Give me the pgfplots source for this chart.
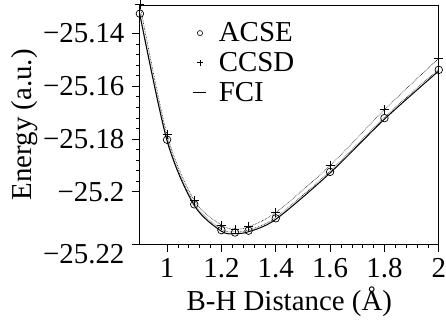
\documentclass[border=0pt]{standalone}
\usepackage{pgfplots}
\pgfplotsset{compat=1.18}
\usepackage{fontspec}
\setmainfont{Liberation Serif}
\begin{document}
\begin{tikzpicture}[x=1bp,y=1bp]
\begin{axis}[
  scale only axis,
  width=300bp, height=240bp,
  xmin=0.9, xmax=2.0,
  ymin=-25.22, ymax=-25.1293,
  axis line style={line width=0.8bp},
  tick pos=left,
  tick align=outside,
  major tick length=8bp,
  minor tick length=4bp,
  every tick/.style={line width=0.6bp, black},
  xtick={1,1.2,1.4,1.6,1.8,2},
  xticklabels={1,1.2,1.4,1.6,1.8,2},
  ytick={-25.2,-25.18,-25.16,-25.14},
  yticklabels={−25.2,−25.18,−25.16,−25.14},
  extra y ticks={-25.22},
  extra y tick labels={−25.22},
  extra y tick style={yticklabel style={yshift=-10bp}},
  minor x tick num=4,
  minor y tick num=4,
  tick label style={font=\fontsize{29bp}{30bp}\selectfont},
  yticklabel style={xshift=-4bp},
  xticklabel style={inner xsep=0bp, yshift=-2bp, text height=19.6bp, text depth=0bp},
  /pgf/number format/assume math mode=true,
  xlabel={B-H Distance (Å)},
  ylabel={Energy (a.u.)},
  every axis x label/.style={at={(axis description cs:0.5,-0.275)}, anchor=base, inner sep=3bp, font=\fontsize{29bp}{30bp}\selectfont},
  every axis y label/.style={at={(axis description cs:-0.3643,0.5)}, rotate=90, anchor=base, inner sep=11bp, font=\fontsize{29bp}{30bp}\selectfont},
  legend cell align=left,
  legend style={draw=none, fill=none, at={(rel axis cs:0.157,0.94)}, anchor=north west,
    font=\fontsize{29bp}{24bp}\selectfont, row sep=7bp,
    nodes={inner sep=1bp}},
  clip=false,
]
% fitted curves (no legend)
\addplot[black, densely dotted, line width=0.6bp, smooth, forget plot] coordinates {
(0.9,-25.1290) (1.0,-25.1784) (1.1,-25.2033) (1.2,-25.2127) (1.25,-25.2142) (1.3,-25.2133) (1.4,-25.2079) (1.6,-25.1901) (1.8,-25.1689) (2.0,-25.1494)};
\addplot[black, densely dotted, line width=0.6bp, smooth, forget plot] coordinates {
(0.9,-25.1322) (1.0,-25.1800) (1.1,-25.2045) (1.2,-25.2143) (1.25,-25.2152) (1.3,-25.2146) (1.4,-25.2098) (1.6,-25.1922) (1.8,-25.1718) (2.0,-25.1535)};
% ACSE
\addplot[only marks, mark=o, mark size=3.8bp, mark options={line width=0.7bp}, black, forget plot] coordinates {
(0.9,-25.1325) (1.0,-25.1803) (1.1,-25.2048) (1.2,-25.2146) (1.25,-25.2155) (1.3,-25.2148) (1.4,-25.2101) (1.6,-25.1925) (1.8,-25.1721) (2.0,-25.1538)};
% CCSD
\addplot[only marks, mark=+, mark size=4.5bp, mark options={line width=0.7bp}, black, forget plot] coordinates {
(0.9,-25.1290) (1.0,-25.1784) (1.1,-25.2033) (1.2,-25.2127) (1.25,-25.2142) (1.3,-25.2133) (1.4,-25.2079) (1.6,-25.1901) (1.8,-25.1689) (2.0,-25.1494)};
% FCI
\addplot[black, line width=1bp, smooth, forget plot] coordinates {
(0.9,-25.1329) (1.0,-25.1807) (1.1,-25.2052) (1.2,-25.2150) (1.25,-25.2159) (1.3,-25.2152) (1.4,-25.2105) (1.6,-25.1929) (1.8,-25.1725) (2.0,-25.1542)};
\addlegendimage{legend image code/.code={\path[draw=none] (0bp,0bp) -- (28bp,0bp); \draw[black, line width=0.6bp] (10bp,0bp) circle (2.6bp);}}
\addlegendentry{ACSE}
\addlegendimage{legend image code/.code={\path[draw=none] (0bp,0bp) -- (28bp,0bp); \draw[black, line width=0.6bp] (7bp,0bp) -- (13bp,0bp) (10bp,-3bp) -- (10bp,3bp);}}
\addlegendentry{CCSD}
\addlegendimage{legend image code/.code={\path[draw=none] (0bp,0bp) -- (28bp,0bp); \draw[black, line width=0.8bp] (3.5bp,0bp) -- (16.5bp,0bp);}}
\addlegendentry{FCI}
\end{axis}
\end{tikzpicture}
\end{document}
